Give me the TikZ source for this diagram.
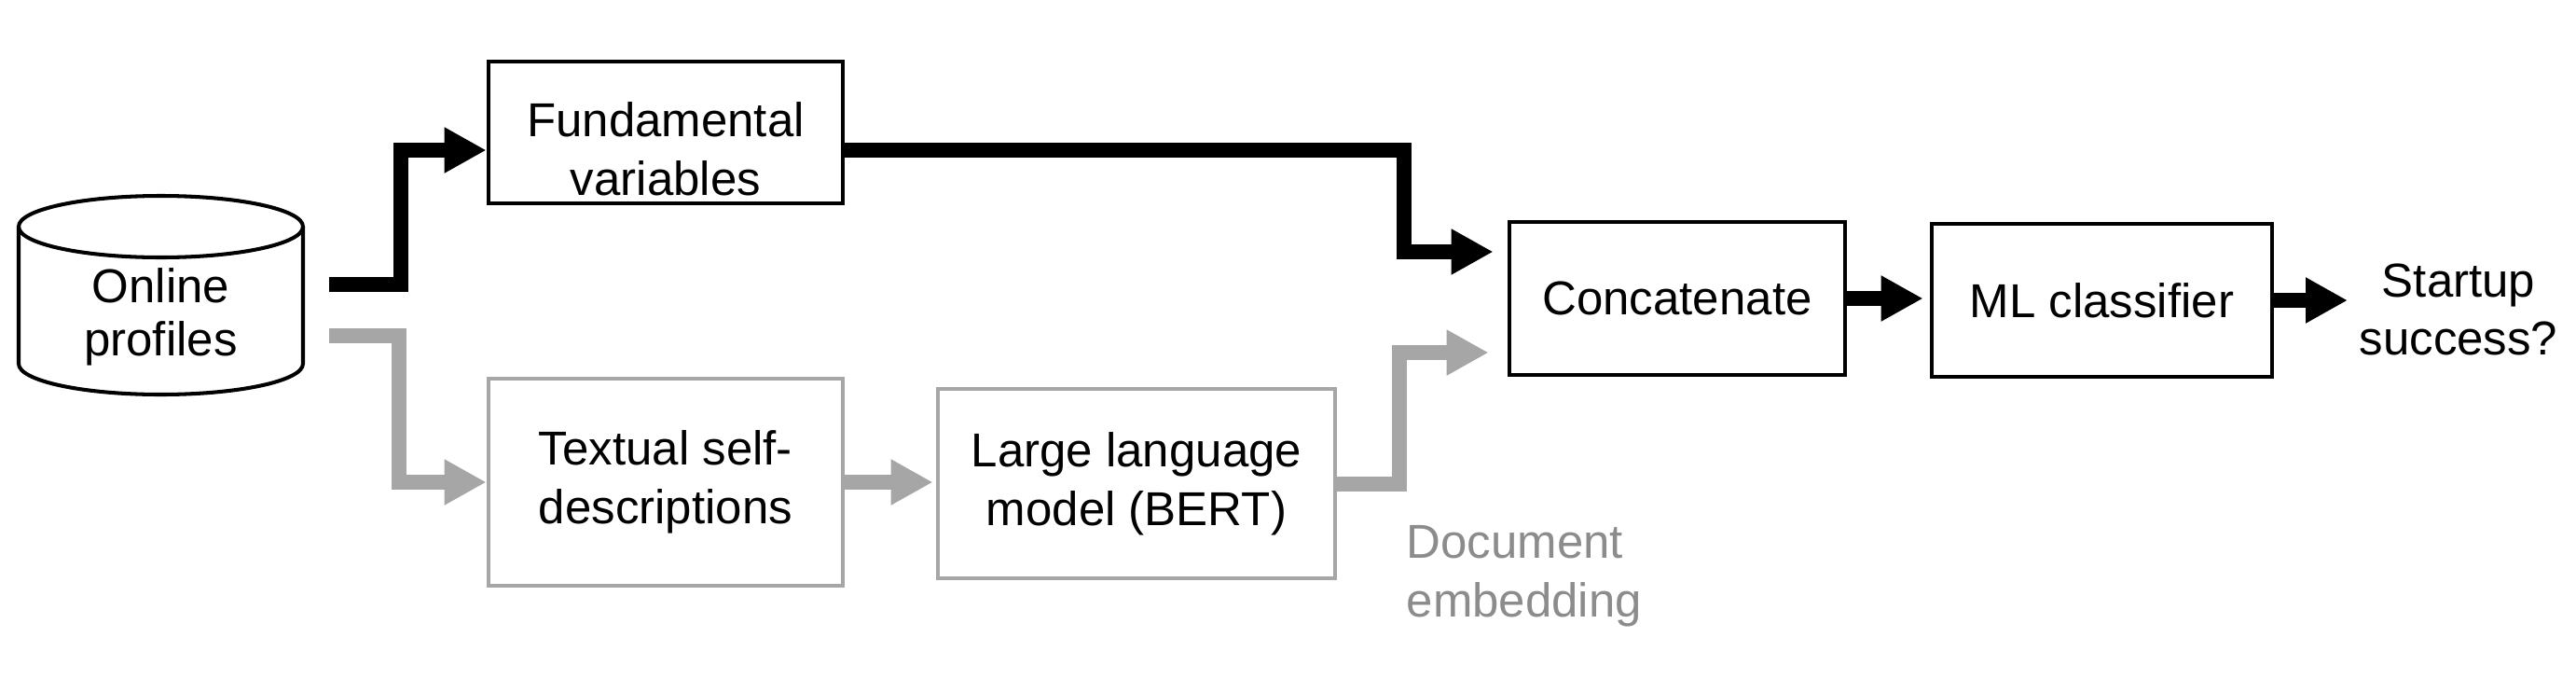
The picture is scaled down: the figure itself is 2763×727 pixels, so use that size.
\documentclass[tikz,border=0pt]{standalone}
\usepackage{fontspec}
\setmainfont{Liberation Sans}
\usetikzlibrary{arrows.meta,calc}
\definecolor{flowgray}{gray}{0.65}
\definecolor{notegray}{gray}{0.55}
\begin{document}
\begin{tikzpicture}[x=0.01cm,y=-0.01cm,
  font=\fontsize{14.5}{17.8}\selectfont,
  box/.style={draw,line width=1.3pt,align=center,inner sep=0pt},
  graybox/.style={box,draw=flowgray},
  flow/.style={line width=0.16cm,-{Triangle[length=0.45cm,width=0.46cm]}},
  grayflow/.style={flow,draw=flowgray}]
\useasboundingbox (0,0) rectangle (2763,727);
% data store
\draw[line width=1.15pt] (20,243) -- (20,390) arc[start angle=180,end angle=0,x radius=152.5,y radius=33] -- (325,243);
\draw[line width=1.15pt] (172.5,243) ellipse [x radius=152.5,y radius=33];
\node[align=center,inner sep=0pt,font=\fontsize{14.5}{16.3}\selectfont] (online) at (172.5,340) {Online\\profiles};
\node[box,minimum width=3.8cm,minimum height=1.515cm,text height=1.34cm,text depth=0pt] (fund) at (714,142) {Fundamental\\variables};
\node[graybox,minimum width=3.8cm,minimum height=2.22cm] (selfdesc) at (714,517) {Textual self-\\descriptions};
\node[graybox,minimum width=4.26cm,minimum height=2.03cm] (llm) at (1219,518.5) {Large language\\model (BERT)};
\node[box,minimum width=3.6cm,minimum height=1.64cm] (concat) at (1799,320) {Concatenate};
\node[box,minimum width=3.65cm,minimum height=1.635cm] (ml) at (2254.5,322) {ML classifier};
\node[inner sep=0pt,align=center] (outcome) at (2637,332) {Startup\\success?};
\node[inner sep=0pt,align=left,anchor=north west,text=notegray] (embed) at (1508,563) {Document\\embedding};

\coordinate (onblack) at ($(online)+(180.5,-35)$);
\coordinate (ongray) at ($(online)+(180.5,20)$);

\draw[flow] (onblack) -- ++(77,0) |- ([yshift=-0.19cm]fund.west);
\draw[flow,shorten >=0.15cm] ([yshift=-0.19cm]fund.east) -- ++(600,0) |- ([yshift=0.5cm]concat.west);
\draw[grayflow] (ongray) -- ++(75,0) |- (selfdesc.west);
\draw[grayflow,shorten >=0.03cm] (selfdesc.east) -- (selfdesc.east -| llm.west);
\draw[grayflow,shorten >=0.2cm] (llm.east) -- ++(67,0) |- ([yshift=-0.58cm]concat.west);
\draw[flow,shorten >=0.07cm] (concat.east) -- (concat.east -| ml.west);
\draw[flow,shorten >=0.12cm] (ml.east) -- (ml.east -| outcome.west);
\end{tikzpicture}
\end{document}
